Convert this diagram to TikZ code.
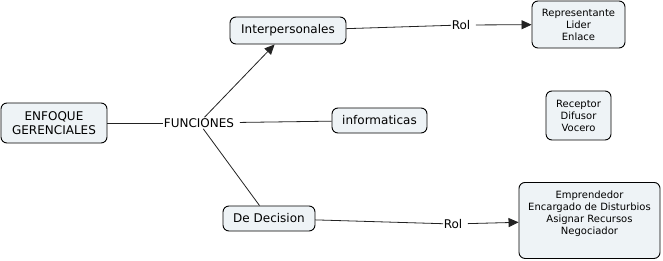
\documentclass[tikz,border=0pt]{standalone}
\usepackage{fontspec}
\setmainfont{DejaVu Sans}
\usetikzlibrary{arrows.meta}
\definecolor{boxfill}{HTML}{EEF3F6}
\definecolor{linegray}{HTML}{222222}
\begin{document}
\begin{tikzpicture}[x=1pt,y=-1pt,
  concept/.style={draw=black,fill=boxfill,rounded corners=6pt,line width=0.9pt,align=center,inner sep=0pt},
  bigtxt/.style={font=\fontsize{12}{14}\selectfont},
  smalltxt/.style={font=\fontsize{10}{12}\selectfont},
  lbl/.style={inner xsep=0.5pt,inner ysep=1pt,font=\fontsize{12}{14}\selectfont},
  conn/.style={draw=linegray,line width=0.8pt},
  arr/.style={conn,-{Triangle[length=10pt,width=9pt]}}]
\useasboundingbox (0,0) rectangle (663,260);
\node[concept,bigtxt,minimum width=106pt,minimum height=40pt] (enf) at (54,123) {ENFOQUE\\GERENCIALES};
\node[lbl] (fun) at (199,123) {FUNCIONES};
\node[concept,bigtxt,minimum width=116pt,minimum height=27pt] (inter) at (288,30.5) {Interpersonales};
\node[concept,bigtxt,minimum width=95pt,minimum height=25pt] (info) at (379.5,120.5) {informaticas};
\node[concept,bigtxt,minimum width=92pt,minimum height=25pt] (dec) at (269,218.5) {De Decision};
\node[lbl] (rol1) at (461,25) {Rol};
\node[lbl] (rol2) at (453,224) {Rol};
\node[concept,smalltxt,minimum width=93pt,minimum height=47pt] (rep) at (578.5,24.5) {Representante\\Lider\\Enlace};
\node[concept,smalltxt,minimum width=65pt,minimum height=49pt] (rec) at (578.5,115.5) {Receptor\\Difusor\\Vocero};
\node[concept,smalltxt,minimum width=141pt,minimum height=76pt,anchor=north] (emp) at (589.5,182) {};
\node[smalltxt,align=center,inner sep=0pt] (emptxt) at (589.5,213.5) {Emprendedor\\Encargado de Disturbios\\Asignar Recursos\\Negociador};
\draw[conn] (enf) -- (fun);
\draw[arr] (fun) -- (inter);
\draw[conn,shorten <=5pt] (fun) -- (info);
\draw[conn] (fun) -- (dec);
\draw[conn] (inter) -- (rol1);
\draw[arr,shorten <=5pt] (rol1) -- (rep);
\draw[conn] (dec) -- (rol2);
\draw[arr,shorten <=5pt] (rol2) -- (emp);
\end{tikzpicture}
\end{document}
